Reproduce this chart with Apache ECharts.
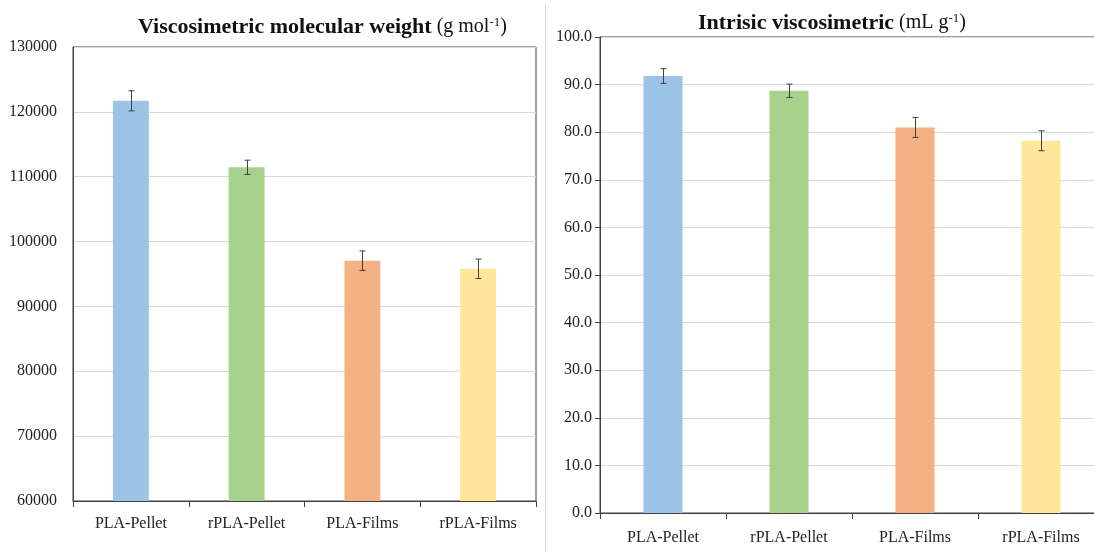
<!DOCTYPE html>
<html>
<head>
<meta charset="utf-8">
<script src="https://cdn.jsdelivr.net/npm/echarts@6/dist/echarts.min.js"></script>
<style>
html,body{margin:0;padding:0;background:#fff;}
#chart{width:1094px;height:552px;}
</style>
</head>
<body>
<div id="chart"></div>
<script>
var categories = ['PLA-Pellet', 'rPLA-Pellet', 'PLA-Films', 'rPLA-Films'];
var barColors = ['#9DC3E6', '#A9D18E', '#F4B183', '#FFE699'];
var mwValues = [121700, 111450, 97050, 95800];
var mwErrors = [1550, 1100, 1500, 1500];
var ivValues = [91.8, 88.7, 81.0, 78.2];
var ivErrors = [1.55, 1.4, 2.1, 2.1];

var FONT = 'Liberation Serif';
var chart = echarts.init(document.getElementById('chart'), null, {renderer: 'canvas'});

function barData(vals) {
  return vals.map(function (v, i) { return {value: v, itemStyle: {color: barColors[i]}}; });
}
function errData(vals, errs) {
  return vals.map(function (v, i) { return [i, v - errs[i], v + errs[i]]; });
}
function renderErr(params, api) {
  var idx = api.value(0);
  var lo = api.coord([idx, api.value(1)]);
  var hi = api.coord([idx, api.value(2)]);
  var x = Math.round(lo[0]) + 0.5;
  var cap = 3;
  var st = {stroke: '#404040', lineWidth: 1};
  return {
    type: 'group',
    children: [
      {type: 'line', shape: {x1: x, y1: hi[1], x2: x, y2: lo[1]}, style: st},
      {type: 'line', shape: {x1: x - cap, y1: hi[1], x2: x + cap, y2: hi[1]}, style: st},
      {type: 'line', shape: {x1: x - cap, y1: lo[1], x2: x + cap, y2: lo[1]}, style: st}
    ]
  };
}

var axisLineStyle = {color: '#404040', width: 1};
var labelStyle = {fontFamily: FONT, fontSize: 16, color: '#222'};

var titleRich = {
  b: {fontFamily: FONT, fontSize: 22, fontWeight: 'bold', color: '#111'},
  r: {fontFamily: FONT, fontSize: 20, fontWeight: 'normal', color: '#111'},
  s: {fontFamily: FONT, fontSize: 13, fontWeight: 'normal', color: '#111', padding: [0, 0, 9, 0]}
};

var option = {
  backgroundColor: '#fff',
  animation: false,
  title: [
    {
      text: '{b|Viscosimetric molecular weight} {r|(g mol}{s|-1}{r|)}',
      left: 133, top: 11,
      textStyle: {fontWeight: 'normal', rich: titleRich}
    },
    {
      text: '{b|Intrisic viscosimetric} {r|(mL g}{s|-1}{r|)}',
      left: 693, top: 7,
      textStyle: {fontWeight: 'normal', rich: titleRich}
    }
  ],
  graphic: [
    {type: 'line', shape: {x1: 545.5, y1: 5, x2: 545.5, y2: 552}, style: {stroke: '#d6d6d6', lineWidth: 1}}
  ],
  grid: [
    {left: 73, top: 47, width: 463, height: 454, outerBoundsMode: 'none', show: true, borderColor: '#404040', borderWidth: 1, backgroundColor: 'transparent'},
    {left: 600, top: 37, width: 504, height: 476, outerBoundsMode: 'none', show: true, borderColor: '#404040', borderWidth: 1, backgroundColor: 'transparent'}
  ],
  xAxis: [
    {
      type: 'category', gridIndex: 0, data: categories, boundaryGap: true,
      axisLine: {lineStyle: axisLineStyle},
      axisTick: {show: true, length: 6, lineStyle: axisLineStyle},
      axisLabel: Object.assign({margin: 15}, labelStyle)
    },
    {
      type: 'category', gridIndex: 1, data: categories, boundaryGap: true,
      axisLine: {lineStyle: axisLineStyle},
      axisTick: {show: true, length: 6, lineStyle: axisLineStyle},
      axisLabel: Object.assign({margin: 17}, labelStyle)
    }
  ],
  yAxis: [
    {
      type: 'value', gridIndex: 0, min: 60000, max: 130000, interval: 10000,
      axisLine: {show: true, lineStyle: axisLineStyle},
      axisTick: {show: false},
      splitLine: {show: true, lineStyle: {color: '#d9d9d9', width: 1}},
      axisLabel: Object.assign({margin: 16, formatter: function (v) { return String(v); }}, labelStyle)
    },
    {
      type: 'value', gridIndex: 1, min: 0, max: 100, interval: 10,
      axisLine: {show: true, lineStyle: axisLineStyle},
      axisTick: {show: true, length: 5, inside: false, lineStyle: axisLineStyle},
      splitLine: {show: true, lineStyle: {color: '#d9d9d9', width: 1}},
      axisLabel: Object.assign({margin: 8, formatter: function (v) { return v.toFixed(1); }}, labelStyle)
    }
  ],
  series: [
    {type: 'bar', xAxisIndex: 0, yAxisIndex: 0, barWidth: '31%', data: barData(mwValues)},
    {type: 'custom', xAxisIndex: 0, yAxisIndex: 0, renderItem: renderErr, data: errData(mwValues, mwErrors), z: 5},
    {type: 'bar', xAxisIndex: 1, yAxisIndex: 1, barWidth: '31%', data: barData(ivValues)},
    {type: 'custom', xAxisIndex: 1, yAxisIndex: 1, renderItem: renderErr, data: errData(ivValues, ivErrors), z: 5}
  ]
};
chart.setOption(option);
</script>
</body>
</html>
